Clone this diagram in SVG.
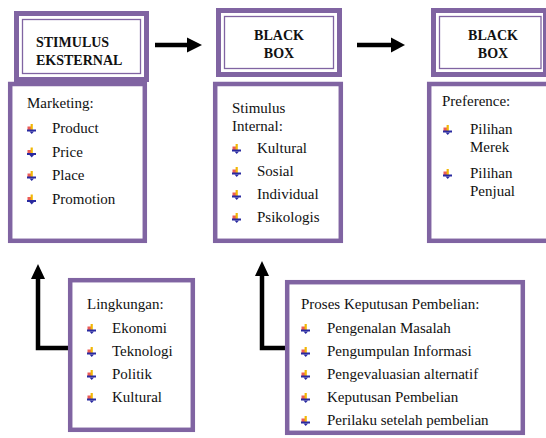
<svg xmlns="http://www.w3.org/2000/svg" xmlns:xlink="http://www.w3.org/1999/xlink" width="546" height="438" viewBox="0 0 546 438">
<style>
.hdr{fill:#fff;stroke:#8064A2;stroke-width:5}
.hin{fill:none;stroke:#8064A2;stroke-width:1.3}
.box{fill:#fff;stroke:#8064A2;stroke-width:4.5}
text{font-family:'Liberation Serif','DejaVu Serif',serif;fill:#111}
.t{font-size:15px}
.h{font-size:14px;font-weight:bold}
.c{text-anchor:middle}
.ln{fill:none;stroke:#000;stroke-width:4.5}
</style>
<defs>
<g id="bul">
<rect x="0.5" y="2.5" width="4" height="4" fill="#e8403a" opacity="0.85"/>
<rect x="3.6" y="0" width="2.2" height="6" fill="#f2b705"/>
<rect x="0" y="5.5" width="9" height="2" fill="#2a2aa0"/>
<polygon points="2.5,7.5 7,7.5 4.7,10" fill="#2a2aa0"/>
</g>
</defs>

<g id="connectors">
<line class="ln" x1="155" y1="45" x2="189" y2="45"/>
<polygon points="187,37.5 202,45 187,52.5" fill="#000"/>
<line class="ln" x1="357" y1="45" x2="393" y2="45"/>
<polygon points="391,37.5 405,45 391,52.5" fill="#000"/>
<polyline class="ln" points="68,348 38,348 38,276"/>
<polygon points="31,279 38,264 45,279" fill="#000"/>
<polyline class="ln" points="285,348 262,348 262,273"/>
<polygon points="255,276 262,261 269,276" fill="#000"/>
</g>

<g id="stimulus-eksternal" font-family="Liberation Serif, serif">
<rect class="box" x="10.2" y="84" width="134.6" height="156.8"/>
<rect class="hdr" x="16.5" y="13.5" width="130" height="66"/>
<rect class="hin" x="22.5" y="19.5" width="118" height="54"/>
<text class="h" x="36" y="47">STIMULUS</text>
<text class="h" x="36" y="65">EKSTERNAL</text>
<text class="t" x="27" y="108">Marketing:</text>
<use xlink:href="#bul" x="27" y="124"/><text class="t" x="52" y="133">Product</text>
<use xlink:href="#bul" x="27" y="147.5"/><text class="t" x="52" y="156.5">Price</text>
<use xlink:href="#bul" x="27" y="171"/><text class="t" x="52" y="180">Place</text>
<use xlink:href="#bul" x="27" y="194.5"/><text class="t" x="52" y="203.5">Promotion</text>
</g>

<g id="black-box-1">
<rect class="box" x="215.2" y="84" width="125.6" height="156.8"/>
<rect class="hdr" x="218.5" y="10.5" width="121" height="64"/>
<rect class="hin" x="224.5" y="16.5" width="109" height="52"/>
<text class="h c" x="279" y="40">BLACK</text>
<text class="h c" x="279" y="58">BOX</text>
<text class="t" x="232" y="113">Stimulus</text>
<text class="t" x="232" y="131">Internal:</text>
<use xlink:href="#bul" x="232" y="144"/><text class="t" x="257" y="153">Kultural</text>
<use xlink:href="#bul" x="232" y="167"/><text class="t" x="257" y="176">Sosial</text>
<use xlink:href="#bul" x="232" y="190"/><text class="t" x="257" y="199">Individual</text>
<use xlink:href="#bul" x="232" y="213"/><text class="t" x="257" y="222">Psikologis</text>
</g>

<g id="black-box-2">
<rect class="box" x="429.2" y="84" width="130" height="156.8"/>
<rect class="hdr" x="433.5" y="10.5" width="112" height="64"/>
<rect class="hin" x="439.5" y="16.5" width="101.5" height="52"/>
<text class="h c" x="493" y="40">BLACK</text>
<text class="h c" x="493" y="58">BOX</text>
<text class="t" x="442" y="106">Preference:</text>
<use xlink:href="#bul" x="443" y="125"/><text class="t" x="470" y="134">Pilihan</text>
<text class="t" x="470" y="152">Merek</text>
<use xlink:href="#bul" x="443" y="169"/><text class="t" x="470" y="178">Pilihan</text>
<text class="t" x="470" y="196">Penjual</text>
</g>

<g id="lingkungan">
<rect class="box" x="70.2" y="280.2" width="122.6" height="149.6"/>
<text class="t" x="87" y="309">Lingkungan:</text>
<use xlink:href="#bul" x="87" y="324"/><text class="t" x="112" y="333">Ekonomi</text>
<use xlink:href="#bul" x="87" y="347"/><text class="t" x="112" y="356">Teknologi</text>
<use xlink:href="#bul" x="87" y="370"/><text class="t" x="112" y="379">Politik</text>
<use xlink:href="#bul" x="87" y="393"/><text class="t" x="112" y="402">Kultural</text>
</g>

<g id="proses-keputusan">
<rect class="box" x="287.2" y="282.2" width="235.6" height="150.6"/>
<text class="t" x="301" y="309">Proses Keputusan Pembelian:</text>
<use xlink:href="#bul" x="301" y="324"/><text class="t" x="327" y="333">Pengenalan Masalah</text>
<use xlink:href="#bul" x="301" y="347"/><text class="t" x="327" y="356">Pengumpulan Informasi</text>
<use xlink:href="#bul" x="301" y="370"/><text class="t" x="327" y="379">Pengevaluasian alternatif</text>
<use xlink:href="#bul" x="301" y="393"/><text class="t" x="327" y="402">Keputusan Pembelian</text>
<use xlink:href="#bul" x="301" y="416"/><text class="t" x="327" y="425">Perilaku setelah pembelian</text>
</g>
</svg>
